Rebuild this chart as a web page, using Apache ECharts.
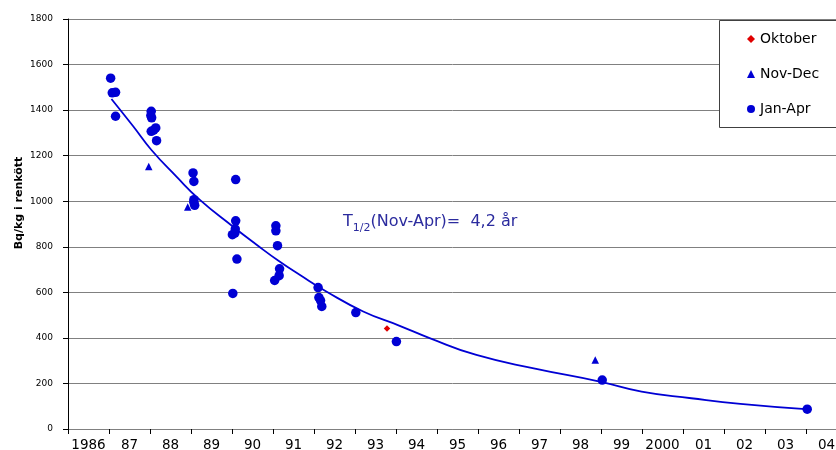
<!DOCTYPE html>
<html><head><meta charset="utf-8">
<script src="https://cdn.jsdelivr.net/npm/echarts@6/dist/echarts.min.js"></script>
<style>html,body{margin:0;padding:0;background:#fff}#c{width:836px;height:450px}</style>
</head><body><div id="c"></div>
<script>
var yearLabels = ['1986','87','88','89','90','91','92','93','94','95','96','97','98','99','2000','01','02','03','04'];
var janAprX = [1987.04,1987.08,1987.16,1987.16,1988.03,1988.02,1988.04,1988.03,1988.14,1988.09,1988.16,1989.05,1989.07,1989.07,1989.07,1989.09,1990.09,1990.09,1990.08,1990.01,1990.07,1990.12,1990.02,1991.07,1991.07,1991.11,1991.16,1991.15,1991.04,1992.10,1992.12,1992.16,1992.19,1993.02,1994.01,1999.03,2004.03];
var janAprY = [1540,1476,1478,1373,1395,1376,1366,1307,1322,1312,1266,1124,1087,1007,995,982,1095,914,878,853,860,746,595,892,870,805,703,673,652,621,577,564,538,511,384,215,87];
var novDecX = [1987.97,1988.92,1998.86];
var novDecY = [1152,975,303];
var oktX = [1993.78];
var oktY = [441];
var trendX = [1987.06,1987.59,1988.03,1988.64,1989.21,1990.02,1990.6,1991.16,1991.65,1992.3,1993.2,1994.09,1994.82,1995.96,1997.42,1998.97,1999.99,2001.2,2002.4,2003.99];
var trendY = [1449,1329,1226,1109,1007,889,809,735,677,604,516,453,399,325,264,208,164,135,110,87];
var yTicks = {min:0,max:1800,step:200};

function zip(a,b){return a.map(function(v,i){return [v,b[i]];});}
var blue = '#0000d4';
var chart = echarts.init(document.getElementById('c'));
chart.setOption({
  animation:false,
  backgroundColor:'#fff',
  grid:{left:68,top:19,width:779,height:410,outerBoundsMode:'none',containLabel:false},
  xAxis:[{
    type:'category', data:yearLabels, boundaryGap:true, position:'bottom',
    axisLine:{lineStyle:{color:'#808080',width:1}},
    axisTick:{show:true,interval:0,alignWithLabel:false,length:5,lineStyle:{color:'#000'}},
    axisLabel:{interval:0,margin:9,color:'#000',fontFamily:'DejaVu Sans',fontSize:13.5,hideOverlap:false},
    splitLine:{show:false}
  },{
    type:'value', min:1986, max:2005, show:false, splitLine:{show:false}
  }],
  yAxis:{
    type:'value', min:yTicks.min, max:yTicks.max, interval:yTicks.step,
    axisLine:{show:true,lineStyle:{color:'#000',width:1}},
    axisTick:{show:true,length:5,lineStyle:{color:'#000'}},
    axisLabel:{color:'#000',fontFamily:'DejaVu Sans',fontSize:9,margin:15,formatter:function(v){return String(v);}},
    splitLine:{show:true,lineStyle:{color:'#808080',width:1}}
  },
  legend:{
    orient:'vertical', left:747, top:32, padding:0, itemGap:21, itemWidth:8, itemHeight:8,
    textStyle:{fontFamily:'DejaVu Sans',fontSize:14,color:'#000',lineHeight:14,padding:[0,0,0,0]},
    data:['Oktober','Nov-Dec','Jan-Apr'], z:20
  },
  graphic:[
    {type:'rect', left:719, top:20, z:10, shape:{width:130,height:107}, style:{fill:'#fff',stroke:'#404040',lineWidth:1}},
    {type:'text', x:19, y:203, rotation:Math.PI/2, z:10, style:{
      text:'Bq/kg i renkött', fontFamily:'DejaVu Sans', fontWeight:'bold', fontSize:11, fill:'#000', align:'center', verticalAlign:'middle'}},
    {type:'text', left:343, top:214, z:10, style:{
      text:'{a|T}{s|1/2}{a|(Nov-Apr)=  4,2 år}',
      rich:{a:{fontFamily:'DejaVu Sans',fontSize:16,fill:'#2b2b9e',verticalAlign:'bottom'},
            s:{fontFamily:'DejaVu Sans',fontSize:11,fill:'#2b2b9e',verticalAlign:'bottom',padding:[0,0,-4,0]}}
    }}
  ],
  series:[
    {name:'trend', type:'line', xAxisIndex:1, data:zip(trendX,trendY), smooth:true, showSymbol:false, symbol:'none',
     lineStyle:{color:blue,width:1.8}, z:2, silent:true},
    {name:'Jan-Apr', type:'scatter', xAxisIndex:1, data:zip(janAprX,janAprY), symbol:'circle', symbolSize:9.5, itemStyle:{color:blue,opacity:1}, z:3},
    {name:'Nov-Dec', type:'scatter', xAxisIndex:1, data:zip(novDecX,novDecY), symbol:'triangle', symbolSize:7.5, itemStyle:{color:blue,opacity:1}, z:3},
    {name:'Oktober', type:'scatter', xAxisIndex:1, data:zip(oktX,oktY), symbol:'diamond', symbolSize:6.5, itemStyle:{color:'#e00000',opacity:1}, z:3}
  ]
});
</script></body></html>
